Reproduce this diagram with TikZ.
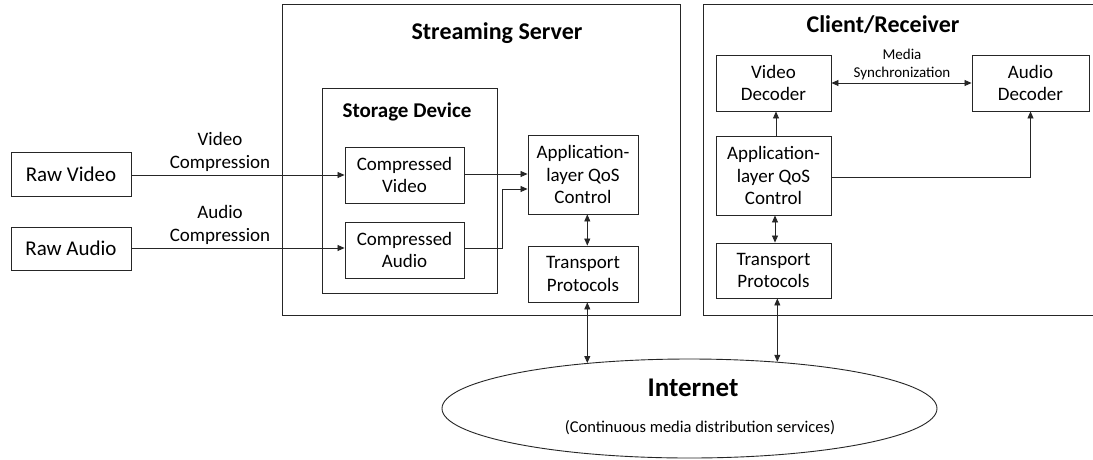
\documentclass[tikz,border=0pt]{standalone}
\usepackage{fontspec}
\setmainfont{Carlito}
\usetikzlibrary{arrows.meta,shapes.geometric}
\tikzset{
  x=1pt,y=-1pt,
  box/.style={draw=black!85,line width=0.9pt,align=center,inner sep=0pt,
    font=\fontsize{19}{22.5}\selectfont},
  frame/.style={draw=black!85,line width=0.9pt},
  conn/.style={draw=black!85,line width=0.8pt,-{Triangle[length=7pt,width=6pt]}},
  bconn/.style={draw=black!85,line width=0.8pt,{Triangle[length=7pt,width=6pt]}-{Triangle[length=7pt,width=6pt]}},
  lbl/.style={align=center,inner sep=0pt,font=\fontsize{19}{22.5}\selectfont},
  ttl/.style={inner sep=0pt,font=\bfseries\fontsize{24}{28}\selectfont}
}
\begin{document}
\begin{tikzpicture}
\clip (0,0) rectangle (1093,459);
\fill[white] (0,0) rectangle (1093,459);
% frames
\draw[frame] (282,4) rectangle (680,315);
\draw[frame] (322,88) rectangle (497,293);
\draw[frame] (703,4) rectangle (1110,315);
% titles
\node[ttl] (tS) at (497,33) {Streaming Server};
\node[ttl,font=\bfseries\fontsize{21}{25}\selectfont] (tSD) at (407,112) {Storage Device};
\node[ttl] (tC) at (883,25) {Client/Receiver};
% left boxes
\node[box,minimum width=120pt,minimum height=44pt,font=\fontsize{21}{25}\selectfont] (rv) at (71,174) {Raw Video};
\node[box,minimum width=120pt,minimum height=43pt,font=\fontsize{21}{25}\selectfont] (ra) at (71,248.5) {Raw Audio};
% server boxes
\node[box,minimum width=119pt,minimum height=56pt] (cv) at (404.5,175) {Compressed\\Video};
\node[box,minimum width=119pt,minimum height=56pt] (ca) at (404.5,250) {Compressed\\Audio};
\node[box,minimum width=110pt,minimum height=79pt] (appS) at (583,174.5) {Application-\\layer QoS\\Control};
\node[box,minimum width=110pt,minimum height=56pt] (trS) at (583,274) {Transport\\Protocols};
% client boxes
\node[box,minimum width=115pt,minimum height=56pt] (vd) at (773.5,83) {Video\\Decoder};
\node[box,minimum width=117pt,minimum height=56pt] (ad) at (1030.5,83) {Audio\\Decoder};
\node[box,minimum width=115pt,minimum height=79pt] (appC) at (773.5,175.5) {Application-\\layer QoS\\Control};
\node[box,minimum width=115pt,minimum height=55pt] (trC) at (773.5,270.5) {Transport\\Protocols};
% internet
\node[ellipse,draw=black!85,line width=0.9pt,minimum width=495pt,minimum height=99pt,inner sep=0pt] (inet) at (689.5,408.5) {};
\node[inner sep=0pt,font=\bfseries\fontsize{27}{30}\selectfont] (inetT) at (693,388) {Internet};
\node[inner sep=0pt,font=\fontsize{16.5}{20}\selectfont] (inetS) at (700,428) {(Continuous media distribution services)};
% labels
\node[lbl] (lv) at (220,152) {Video\\Compression};
\node[lbl] (la) at (220,225) {Audio\\Compression};
\node[lbl,font=\fontsize{15}{17.5}\selectfont] (lm) at (902,64.5) {Media\\Synchronization};
% connectors
\draw[conn] (rv.east |- cv.west) -- (cv.west);
\draw[conn] (ra.east |- 0,248) -- (ca.west |- 0,248);
\draw[conn] (cv.east |- 0,174) -- (appS.west |- 0,174);
\coordinate (cam) at (502,248);
\draw[conn] (ca.east |- cam) -- (cam) |- (appS.west |- 0,189);
\draw[bconn] (inet.156 |- appS.south) -- (inet.156 |- trS.north);
\draw[bconn] (inet.156 |- trS.south) -- (inet.156);
\draw[conn] (appC.north -| 776,0) -- (vd.south -| 776,0);
\draw[bconn] (appC.south -| 775,0) -- (trC.north -| 775,0);
\draw[bconn] (inet.28.2 |- trC.south) -- (inet.28.2);
\draw[conn] (appC.east |- 0,177) -| (ad.south);
\draw[bconn] (vd.east) -- (ad.west);
\end{tikzpicture}
\end{document}
